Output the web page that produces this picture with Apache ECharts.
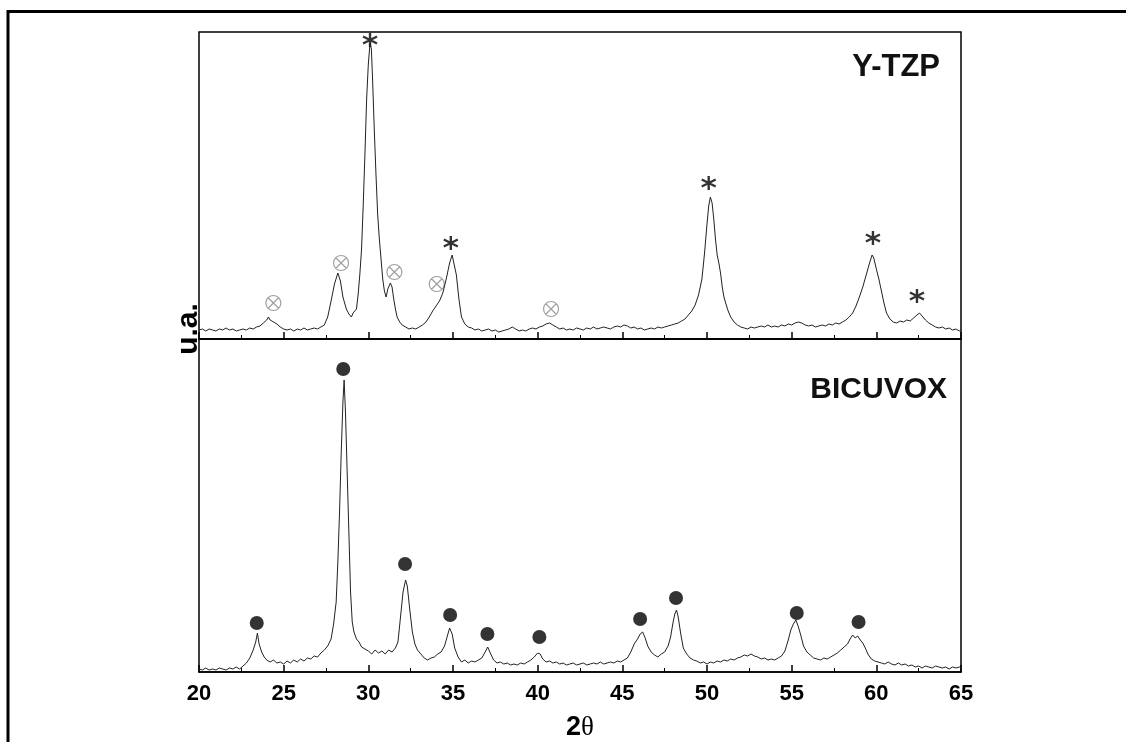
<!DOCTYPE html>
<html>
<head>
<meta charset="utf-8">
<script src="https://cdn.jsdelivr.net/npm/echarts@6/dist/echarts.min.js"></script>
<style>
  html, body { margin: 0; padding: 0; background: #fff; }
  #main { width: 1126px; height: 742px; }
</style>
</head>
<body>
<div id="main"></div>
<script type="text/javascript">
    // Y-TZP pattern, [2theta, intensity]
    var tzpData = [
        [20.0,9],[20.2,10],[20.4,8],[20.6,10],[20.8,9],[21.0,8],[21.2,10],[21.4,9],[21.6,11],[21.8,9],
        [22.0,10],[22.2,8],[22.4,9],[22.6,10],[22.8,9],[23.0,11],[23.2,10],[23.4,12],[23.6,13],[23.8,16],
        [24.0,19],[24.1,22],[24.2,19],[24.3,21],[24.4,17],[24.6,15],[24.8,12],[25.0,10],[25.2,9],[25.4,10],
        [25.6,8],[25.8,10],[26.0,9],[26.2,11],[26.4,9],[26.6,10],[26.8,11],[27.0,10],[27.2,12],[27.4,14],
        [27.6,22],[27.8,38],[28.0,55],[28.2,66],[28.35,58],[28.5,42],[28.7,30],[28.85,25],[29.0,22],[29.1,26],
        [29.2,24],[29.3,30],[29.4,45],[29.5,65],[29.6,90],[29.7,135],[29.8,185],[29.9,240],[30.0,275],[30.1,296],
        [30.18,290],[30.25,260],[30.35,210],[30.45,165],[30.55,125],[30.65,100],[30.75,80],[30.85,60],[30.95,48],[31.05,42],
        [31.15,50],[31.3,56],[31.4,52],[31.5,40],[31.6,30],[31.7,22],[31.85,17],[32.0,14],[32.2,12],[32.4,10],
        [32.6,11],[32.8,10],[33.0,12],[33.2,14],[33.4,17],[33.6,22],[33.8,28],[34.0,33],[34.2,38],[34.4,46],
        [34.6,60],[34.8,76],[34.95,84],[35.05,82],[35.2,64],[35.35,40],[35.5,22],[35.7,15],[35.9,12],[36.1,11],
        [36.3,9],[36.5,10],[36.7,8],[36.9,9],[37.1,10],[37.3,8],[37.5,9],[37.7,7],[37.9,8],[38.1,9],
        [38.3,10],[38.5,12],[38.7,10],[38.9,8],[39.1,9],[39.3,8],[39.5,10],[39.7,11],[39.9,10],[40.1,12],
        [40.3,13],[40.5,15],[40.7,16],[40.9,14],[41.1,12],[41.3,10],[41.5,11],[41.7,9],[41.9,10],[42.1,9],
        [42.3,11],[42.5,10],[42.7,9],[42.9,11],[43.1,10],[43.3,12],[43.5,10],[43.7,11],[43.9,12],[44.1,11],
        [44.3,10],[44.5,12],[44.7,13],[44.9,12],[45.1,14],[45.3,13],[45.5,11],[45.7,12],[45.9,10],[46.1,11],
        [46.3,9],[46.5,10],[46.7,11],[46.9,10],[47.1,12],[47.3,11],[47.5,12],[47.7,13],[47.9,14],[48.1,15],
        [48.3,16],[48.5,18],[48.7,20],[48.9,24],[49.1,28],[49.3,34],[49.5,44],[49.7,60],[49.85,85],[50.0,115],
        [50.1,133],[50.2,142],[50.3,136],[50.4,120],[50.5,100],[50.6,84],[50.7,76],[50.8,66],[50.9,52],[51.0,42],
        [51.1,36],[51.25,28],[51.4,22],[51.6,17],[51.8,14],[52.0,12],[52.2,11],[52.4,10],[52.6,12],[52.8,11],
        [53.0,12],[53.2,13],[53.4,12],[53.6,14],[53.8,12],[54.0,13],[54.2,12],[54.4,14],[54.6,13],[54.8,15],
        [55.0,14],[55.2,16],[55.4,17],[55.6,16],[55.8,14],[56.0,13],[56.2,14],[56.4,12],[56.6,13],[56.8,14],
        [57.0,13],[57.2,15],[57.4,14],[57.6,16],[57.8,15],[58.0,17],[58.2,19],[58.4,22],[58.6,26],[58.8,33],
        [59.0,42],[59.2,52],[59.4,64],[59.6,76],[59.75,84],[59.85,81],[60.0,70],[60.15,60],[60.3,48],[60.45,36],
        [60.6,26],[60.8,20],[61.0,17],[61.2,16],[61.4,18],[61.6,17],[61.8,19],[62.0,18],[62.2,21],[62.4,24],
        [62.55,26],[62.7,23],[62.9,19],[63.1,16],[63.3,14],[63.5,12],[63.7,11],[63.9,12],[64.1,10],[64.3,11],
        [64.5,9],[64.7,10],[64.9,8],[65.0,9]
    ];

    // BICUVOX pattern
    var bicData = [
        [20.0,3],[20.2,2],[20.4,4],[20.6,2],[20.8,3],[21.0,2],[21.2,4],[21.4,3],[21.6,2],[21.8,4],
        [22.0,3],[22.2,5],[22.4,3],[22.6,6],[22.8,9],[23.0,14],[23.2,22],[23.35,30],[23.45,39],[23.55,28],
        [23.7,20],[23.85,15],[24.0,12],[24.2,10],[24.4,12],[24.6,9],[24.8,10],[25.0,8],[25.2,11],[25.4,9],
        [25.6,12],[25.8,10],[26.0,13],[26.2,11],[26.4,14],[26.6,13],[26.8,16],[27.0,15],[27.2,19],[27.4,22],
        [27.6,26],[27.8,33],[27.95,48],[28.1,70],[28.2,110],[28.3,160],[28.4,220],[28.5,270],[28.57,292],[28.65,260],
        [28.75,200],[28.85,140],[28.95,80],[29.05,50],[29.15,40],[29.3,33],[29.45,30],[29.6,25],[29.8,23],[30.0,21],
        [30.2,18],[30.4,22],[30.6,19],[30.8,21],[31.0,18],[31.2,22],[31.4,20],[31.6,24],[31.75,30],[31.9,55],
        [32.05,80],[32.2,92],[32.3,86],[32.45,62],[32.6,40],[32.75,28],[32.9,22],[33.1,18],[33.3,14],[33.5,12],
        [33.7,14],[33.9,15],[34.1,18],[34.3,20],[34.5,26],[34.65,35],[34.8,44],[34.95,38],[35.1,24],[35.3,15],
        [35.5,10],[35.7,12],[35.9,9],[36.1,11],[36.3,10],[36.5,12],[36.7,14],[36.9,20],[37.05,25],[37.2,19],
        [37.4,12],[37.6,9],[37.8,10],[38.0,8],[38.2,9],[38.4,7],[38.6,8],[38.8,7],[39.0,9],[39.2,8],
        [39.4,10],[39.6,12],[39.8,15],[40.0,19],[40.15,18],[40.3,13],[40.5,10],[40.7,11],[40.9,9],[41.1,10],
        [41.3,8],[41.5,9],[41.7,7],[41.9,8],[42.1,9],[42.3,7],[42.5,8],[42.7,9],[42.9,7],[43.1,8],
        [43.3,9],[43.5,8],[43.7,10],[43.9,8],[44.1,9],[44.3,10],[44.5,9],[44.7,11],[44.9,10],[45.1,12],
        [45.3,14],[45.5,20],[45.7,28],[45.9,33],[46.05,38],[46.2,40],[46.35,34],[46.5,26],[46.7,20],[46.9,17],
        [47.1,15],[47.3,18],[47.5,20],[47.7,26],[47.85,35],[48.0,50],[48.1,58],[48.2,62],[48.3,55],[48.45,38],
        [48.6,24],[48.8,18],[49.0,14],[49.2,12],[49.4,11],[49.6,9],[49.8,10],[50.0,8],[50.2,10],[50.4,9],
        [50.6,11],[50.8,10],[51.0,12],[51.2,11],[51.4,13],[51.6,12],[51.8,14],[52.0,15],[52.2,17],[52.4,16],
        [52.6,18],[52.8,16],[53.0,15],[53.2,13],[53.4,14],[53.6,12],[53.8,13],[54.0,12],[54.2,14],[54.4,16],
        [54.6,21],[54.8,32],[54.95,42],[55.1,48],[55.25,52],[55.4,45],[55.55,36],[55.7,26],[55.9,20],[56.1,17],
        [56.3,14],[56.5,13],[56.7,12],[56.9,14],[57.1,13],[57.3,15],[57.5,17],[57.7,19],[57.9,22],[58.1,25],
        [58.3,28],[58.45,33],[58.6,37],[58.75,34],[58.9,36],[59.05,32],[59.2,29],[59.35,24],[59.5,18],[59.7,13],
        [59.9,11],[60.1,10],[60.3,9],[60.5,8],[60.7,10],[60.9,8],[61.1,7],[61.3,9],[61.5,7],[61.7,8],
        [61.9,6],[62.1,7],[62.3,5],[62.5,6],[62.7,4],[62.9,6],[63.1,5],[63.3,4],[63.5,6],[63.7,5],
        [63.9,4],[64.1,5],[64.3,3],[64.5,5],[64.7,4],[64.9,5],[65.0,4]
    ];

    // peak markers
    var tzpStars = [[30.1,299],[34.87,96],[50.1,156],[59.8,101],[62.4,43]];
    var tzpMonoclinic = [[24.39,36],[28.39,76],[31.54,67],[34.04,55],[40.79,30]];
    var bicDots = [[23.41,49],[28.52,303],[32.17,108],[34.83,57],[37.03,38],[40.1,35],[46.05,53],[48.17,74],[55.3,59],[58.95,50]];

    var xTicks = [20, 25, 30, 35, 40, 45, 50, 55, 60, 65];

    var starPath = 'path://M0,-10L0,10M-8.66,-5L8.66,5M-8.66,5L8.66,-5';
    var otimesPath = 'path://M10,0A10,10,0,1,1,-10,0A10,10,0,1,1,10,0ZM-7,-7L7,7M-7,7L7,-7';

    var baseX = {
        type: 'value',
        min: xTicks[0],
        max: xTicks[xTicks.length - 1],
        interval: 5,
        axisLine: { show: true, onZero: false, lineStyle: { color: '#000', width: 1.5 } },
        axisTick: { show: true, inside: true, length: 7, lineStyle: { color: '#000', width: 1.5 } },
        minorTick: { show: true, splitNumber: 2, length: 4, lineStyle: { color: '#000', width: 1 } },
        splitLine: { show: false }
    };

    var option = {
        animation: false,
        backgroundColor: '#fff',
        grid: [
            { left: 199, top: 32, width: 762, height: 307, show: true, borderColor: '#000', borderWidth: 1.5 },
            { left: 199, top: 339, width: 762, height: 333, show: true, borderColor: '#000', borderWidth: 1.5 }
        ],
        xAxis: [
            Object.assign({}, baseX, { gridIndex: 0, axisLabel: { show: false } }),
            Object.assign({}, baseX, {
                gridIndex: 1,
                axisLabel: {
                    show: true, margin: 11, color: '#000',
                    fontFamily: 'Liberation Sans', fontWeight: 'bold', fontSize: 22
                },
                name: '{a|2}{b|θ}',
                nameLocation: 'middle',
                nameGap: 42,
                nameTextStyle: {
                    rich: {
                        a: { fontFamily: 'Liberation Sans', fontWeight: 'bold', fontSize: 27, color: '#000' },
                        b: { fontFamily: 'Liberation Serif', fontSize: 27, color: '#000' }
                    }
                }
            })
        ],
        yAxis: [
            { type: 'value', gridIndex: 0, min: 0, max: 307, show: false },
            { type: 'value', gridIndex: 1, min: 0, max: 333, show: false }
        ],
        graphic: [
            {
                type: 'polyline',
                shape: { points: [[8, 760], [8, 11.5], [1140, 11.5]] },
                style: { stroke: '#000', lineWidth: 3, fill: null }
            },
            {
                type: 'text', x: 189, y: 329, rotation: Math.PI / 2,
                style: {
                    text: 'u.a.', fill: '#000', align: 'center', verticalAlign: 'middle',
                    font: 'bold 30px "Liberation Sans", Arial, sans-serif'
                }
            },
            {
                type: 'text', x: 940, y: 67,
                style: {
                    text: 'Y-TZP', fill: '#111', align: 'right', verticalAlign: 'middle',
                    font: 'bold 31px "Liberation Sans", Arial, sans-serif'
                }
            },
            {
                type: 'text', x: 947, y: 390,
                style: {
                    text: 'BICUVOX', fill: '#111', align: 'right', verticalAlign: 'middle',
                    font: 'bold 30px "Liberation Sans", Arial, sans-serif'
                }
            }
        ],
        series: [
            {
                name: 'Y-TZP', type: 'line', xAxisIndex: 0, yAxisIndex: 0,
                data: tzpData, showSymbol: false, smooth: false,
                lineStyle: { color: '#222', width: 1 }
            },
            {
                name: 'BICUVOX', type: 'line', xAxisIndex: 1, yAxisIndex: 1,
                data: bicData, showSymbol: false, smooth: false,
                lineStyle: { color: '#222', width: 1 }
            },
            {
                name: 'tetragonal', type: 'scatter', xAxisIndex: 0, yAxisIndex: 0,
                data: tzpStars, symbol: starPath, symbolSize: 14,
                itemStyle: { color: 'none', borderColor: '#000', borderWidth: 2.4 }
            },
            {
                name: 'monoclinic', type: 'scatter', xAxisIndex: 0, yAxisIndex: 0,
                data: tzpMonoclinic, symbol: otimesPath, symbolSize: 15,
                itemStyle: { color: 'none', borderColor: '#888', borderWidth: 1.2 }
            },
            {
                name: 'bicuvox', type: 'scatter', xAxisIndex: 1, yAxisIndex: 1,
                data: bicDots, symbol: 'circle', symbolSize: 14,
                itemStyle: { color: '#000' }
            }
        ]
    };

    var chart = echarts.init(document.getElementById('main'));
    chart.setOption(option);
</script>
</body>
</html>
